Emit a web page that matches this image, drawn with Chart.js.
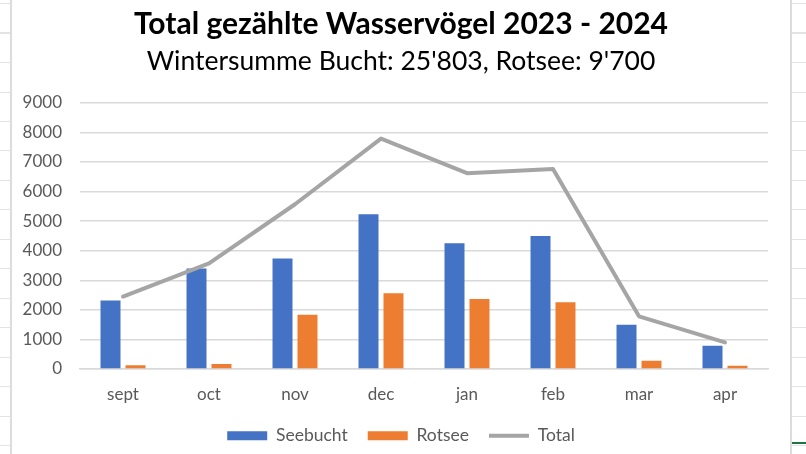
<!DOCTYPE html>
<html>
<head>
<meta charset="utf-8">
<script src="https://cdn.jsdelivr.net/npm/chart.js@4.4.1/dist/chart.umd.min.js"></script>
<style>
  html, body { margin: 0; padding: 0; background: #ffffff; }
  #wrap { position: relative; width: 806px; height: 454px; overflow: hidden; background: #fff; }
  .cells { position: absolute; top: 0; height: 454px;
    background-image: repeating-linear-gradient(to bottom, transparent 0px, transparent 3px, #e3e3e3 3px, #e3e3e3 4px, transparent 4px, transparent 29.5px); }
  #leftCells { left: 0; width: 10px; }
  #rightCells { left: 792px; width: 14px; }
  #leftBorder { position: absolute; left: 10px; top: 0; width: 2px; height: 454px; background: #dcdcdc; }
  #rightBorder { position: absolute; left: 790px; top: 0; width: 2px; height: 454px; background: #dcdcdc; }
  #sel { position: absolute; left: 792px; top: 442px; width: 14px; height: 2px; background: #217346; }
  #c { position: absolute; left: 0; top: 0; }
</style>
</head>
<body>
<div id="wrap">
  <div class="cells" id="leftCells"></div>
  <div class="cells" id="rightCells"></div>
  <div id="leftBorder"></div>
  <div id="rightBorder"></div>
  <div id="sel"></div>
  <canvas id="c" width="806" height="454"></canvas>
</div>
<script>
const categories = ['sept', 'oct', 'nov', 'dec', 'jan', 'feb', 'mar', 'apr'];
const seebucht = [2320, 3400, 3740, 5230, 4250, 4500, 1500, 790];
const rotsee = [130, 170, 1830, 2560, 2370, 2260, 280, 110];
const total = [2450, 3570, 5570, 7790, 6620, 6760, 1780, 900];
const yTicks = [0, 1000, 2000, 3000, 4000, 5000, 6000, 7000, 8000, 9000];
const titleText = 'Total gezählte Wasservögel 2023 - 2024';
const subtitleText = "Wintersumme Bucht: 25'803, Rotsee: 9'700";

const FONT = "Lato, 'Open Sans', 'Liberation Sans', sans-serif";

new Chart(document.getElementById('c'), {
  data: {
    labels: categories,
    datasets: [
      { type: 'line', label: 'Total', data: total, borderColor: '#A5A5A5', backgroundColor: '#A5A5A5',
        borderWidth: 4, pointRadius: 0, pointHoverRadius: 0, tension: 0, borderCapStyle: 'round',
        borderJoinStyle: 'round', pointStyle: 'line', order: 0 },
      { type: 'bar', label: 'Seebucht', data: seebucht, backgroundColor: '#4472C4', pointStyle: 'rect', order: 1,
        categoryPercentage: 0.581, barPercentage: 0.8 },
      { type: 'bar', label: 'Rotsee', data: rotsee, backgroundColor: '#ED7D31', pointStyle: 'rect', order: 1,
        categoryPercentage: 0.581, barPercentage: 0.8 }
    ]
  },
  options: {
    responsive: false,
    animation: false,
    layout: { padding: { left: 11, right: 15, top: 0, bottom: 11 } },
    plugins: {
      title: { display: true, text: titleText, color: '#000',
        font: { family: FONT, size: 30, weight: 'bold', lineHeight: 1.2 }, padding: { top: 6, bottom: 0 } },
      subtitle: { display: true, text: subtitleText, color: '#000',
        font: { family: FONT, size: 26.5, weight: 'normal', lineHeight: 1.2 }, padding: { top: 4, bottom: 25 } },
      legend: {
        position: 'bottom', maxHeight: 36,
        labels: {
          sort: (a, b) => ['Seebucht', 'Rotsee', 'Total'].indexOf(a.text) - ['Seebucht', 'Rotsee', 'Total'].indexOf(b.text),
          usePointStyle: true, pointStyleWidth: 40, boxHeight: 9, padding: 20,
          color: '#595959', font: { family: FONT, size: 17.5 }
        }
      },
      tooltip: { enabled: false }
    },
    scales: {
      x: {
        grid: { display: false, drawTicks: false },
        border: { display: true, color: '#d9d9d9', width: 1.5 },
        ticks: { color: '#595959', font: { family: FONT, size: 17 }, padding: 15 },
        afterFit: (s) => { s.height = 38; }
      },
      y: {
        min: 0, max: 9000,
        afterBuildTicks: (s) => { s.ticks = yTicks.map(v => ({ value: v })); },
        grid: { color: '#d9d9d9', lineWidth: 1.5, drawTicks: false },
        border: { display: false },
        ticks: { color: '#595959', font: { family: FONT, size: 17 }, padding: 18,
          callback: (v) => String(v) },
        afterFit: (s) => { s.width = 69; }
      },
      yRight: {
        position: 'right', min: 0, max: 9000,
        grid: { display: false, drawTicks: false },
        border: { display: false },
        ticks: { display: false },
        afterFit: (s) => { s.width = 23; }
      }
    }
  }
});
</script>
</body>
</html>
